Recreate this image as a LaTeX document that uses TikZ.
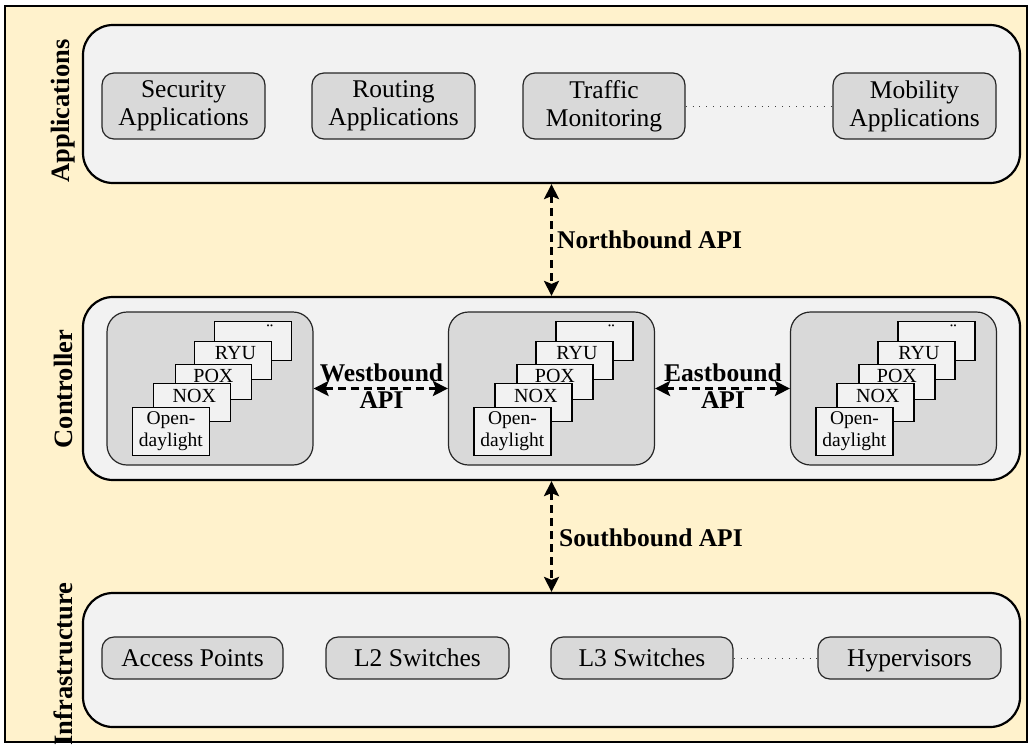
\documentclass[tikz,border=0pt]{standalone}
\usepackage{fontspec}
\setmainfont{Liberation Serif}
\usetikzlibrary{arrows.meta,calc}
\definecolor{cream}{RGB}{255,242,204}
\definecolor{lightbox}{RGB}{242,242,242}
\definecolor{midbox}{RGB}{217,217,217}
\tikzset{
  layerbox/.style={draw=black, line width=2.2pt, fill=lightbox, rounded corners=30pt, inner sep=0pt},
  itembox/.style={draw=black!85, line width=1.2pt, fill=midbox, rounded corners=12pt, inner sep=0pt, align=center, font=\fontsize{25.5}{28}\selectfont},
  infrabox/.style={itembox, text height=20pt, text depth=4pt},
  ctrlbox/.style={draw=black!85, line width=1.2pt, fill=midbox, rounded corners=20pt, inner sep=0pt, minimum width=206pt, minimum height=153pt},
  stackbox/.style={draw=black, line width=1.2pt, fill=lightbox},
  stacktext/.style={font=\fontsize{20}{22}\selectfont, inner sep=0pt, anchor=base},
  layerlabel/.style={rotate=90, font=\bfseries\fontsize{26.5}{28}\selectfont, inner sep=0pt},
  apilabel/.style={font=\bfseries\fontsize{25.5}{27}\selectfont, inner sep=0pt},
  biarrow/.style={dash pattern=on 8pt off 5pt, line width=2.6pt, {Stealth[length=15pt,width=15pt,inset=3pt]}-{Stealth[length=15pt,width=15pt,inset=3pt]}},
  dotline/.style={dash pattern=on 0.9pt off 6pt, line width=1pt, black!75}
}
\newcommand{\ctrlstack}[1]{%
  \draw[stackbox] ($(#1.north west)+(108,10)$) rectangle ($(#1.north west)+(185,49)$);
  \node[font=\fontsize{20}{22}\selectfont, inner sep=0pt] at ($(#1.north west)+(161,20)$) {\"{}};
  \draw[stackbox] ($(#1.north west)+(88,30)$) rectangle ($(#1.north west)+(165,68)$);
  \node[stacktext] at ($(#1.north west)+(129,48)$) {RYU};
  \draw[stackbox] ($(#1.north west)+(69,53)$) rectangle ($(#1.north west)+(145,88)$);
  \node[stacktext] at ($(#1.north west)+(107,71)$) {POX};
  \draw[stackbox] ($(#1.north west)+(47,72)$) rectangle ($(#1.north west)+(124,110)$);
  \node[stacktext] at ($(#1.north west)+(88,91)$) {NOX};
  \draw[stackbox] ($(#1.north west)+(26,96)$) rectangle ($(#1.north west)+(103,144)$);
  \node[font=\fontsize{19.5}{22}\selectfont, inner sep=0pt, align=center] at ($(#1.north west)+(64.5,120)$) {Open-\\daylight};
}
\begin{document}
\begin{tikzpicture}[x=1pt,y=-1pt]
\useasboundingbox (0,0) rectangle (1030,745);
\draw[fill=cream, line width=2pt] (5,6) rectangle (1027,742);

% layers
\node[layerbox, minimum width=937pt, minimum height=158pt] (app) at (551.5,104) {};
\node[layerbox, minimum width=937pt, minimum height=183pt] (ctrl) at (551.5,388.5) {};
\node[layerbox, minimum width=937pt, minimum height=134pt] (infra) at (551.5,660) {};

\node[layerlabel] (lapp) at (63,111) {Applications};
\node[layerlabel] (lctrl) at (63,389) {Controller};
\node[layerlabel] (linfra) at (63,664) {Infrastructure};

% applications
\node[itembox, minimum width=163pt, minimum height=66pt] (sec) at (183.5,106) {Security\\Applications};
\node[itembox, minimum width=163pt, minimum height=66pt] (rout) at (393.5,106) {Routing\\Applications};
\node[itembox, minimum width=162pt, minimum height=66pt] (traf) at (604,106) {Traffic\\Monitoring};
\node[itembox, minimum width=163pt, minimum height=66pt] (mob) at (914.5,106) {Mobility\\Applications};
\draw[dotline] (traf.east) -- (mob.west);

% infrastructure
\node[infrabox, minimum width=181pt, minimum height=42pt] (ap) at (192.5,658) {Access Points};
\node[infrabox, minimum width=183pt, minimum height=42pt] (l2) at (417.5,658) {L2 Switches};
\node[infrabox, minimum width=182pt, minimum height=42pt] (l3) at (642,658) {L3 Switches};
\node[infrabox, minimum width=183pt, minimum height=42pt] (hyp) at (909.5,658) {Hypervisors};
\draw[dotline] (l3.east) -- (hyp.west);

% controllers
\node[ctrlbox] (c1) at (210,388.5) {};
\node[ctrlbox] (c2) at (551.5,388.5) {};
\node[ctrlbox] (c3) at (893.5,388.5) {};
\ctrlstack{c1}
\ctrlstack{c2}
\ctrlstack{c3}

% APIs
\draw[biarrow] (c1.east) -- (c2.west);
\draw[biarrow] (c2.east) -- (c3.west);
\node[apilabel, align=center] (wb) at (381.5,386) {Westbound\\API};
\node[apilabel, align=center] (eb) at (723,386) {Eastbound\\API};

\draw[biarrow] (app.south) -- (ctrl.north);
\draw[biarrow] (ctrl.south) -- (infra.north);
\node[apilabel, anchor=west] (nb) at (557,240) {Northbound API};
\node[apilabel, anchor=west] (sb) at (559,538) {Southbound API};
\end{tikzpicture}
\end{document}
